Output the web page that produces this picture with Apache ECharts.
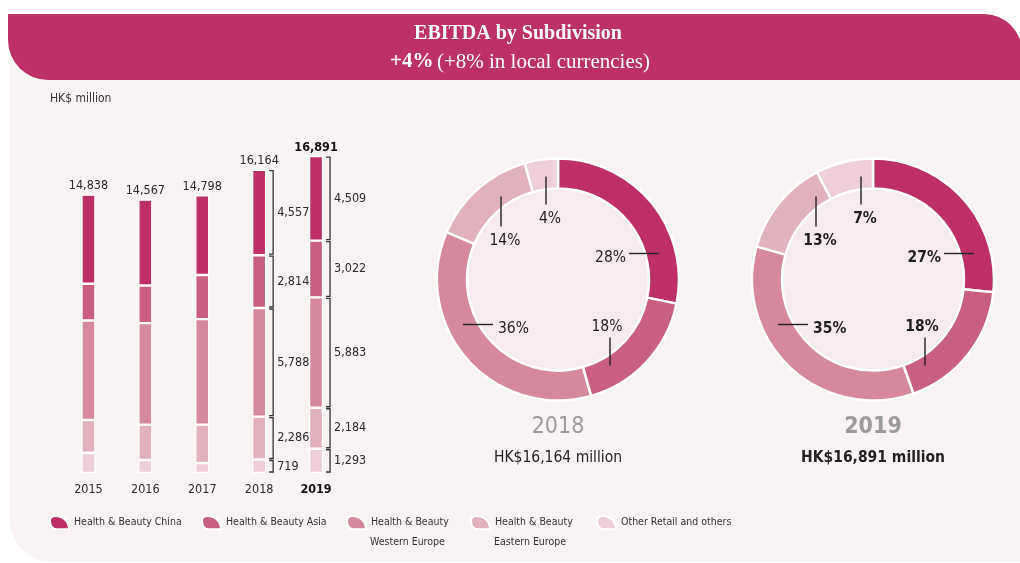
<!DOCTYPE html>
<html><head><meta charset="utf-8">
<script src="https://cdn.jsdelivr.net/npm/echarts@6/dist/echarts.min.js"></script>
<style>html,body{margin:0;padding:0;background:#fff}#c{width:1020px;height:563px}</style>
</head><body><div id="c"></div>
<script>
// ---- data ----
const years = ['2015', '2016', '2017', '2018', '2019'];
const seriesNames = ['Health & Beauty China', 'Health & Beauty Asia', 'Health & Beauty Western Europe', 'Health & Beauty Eastern Europe', 'Other Retail and others'];
const hbChina      = [4750, 4575, 4250, 4557, 4509];
const hbAsia       = [1960, 2005, 2350, 2814, 3022];
const hbWestEurope = [5300, 5410, 5620, 5788, 5883];
const hbEastEurope = [1745, 1885, 2045, 2286, 2184];
const otherRetail  = [1083, 692, 533, 719, 1293];
const totals       = [14838, 14567, 14798, 16164, 16891];
const pct2018 = [28, 18, 36, 14, 4];
const pct2019 = [27, 18, 35, 13, 7];
const donutYears = ['2018', '2019'];
const donutTotals = ['HK$16,164 million', 'HK$16,891 million'];
const legendLine1 = ['Health & Beauty China', 'Health & Beauty Asia', 'Health & Beauty', 'Health & Beauty', 'Other Retail and others'];
const legendLine2 = ['', '', 'Western Europe', 'Eastern Europe', ''];

// ---- style ----
const FF = "'Liberation Sans Narrow','DejaVu Sans Condensed',sans-serif";
const colors = ['#BE2F67', '#C95F80', '#D6899D', '#E3B1BD', '#EECFD7'];
const valueArrays = [hbChina, hbAsia, hbWestEurope, hbEastEurope, otherRetail];
const fmt = v => String(v).replace(/\B(?=(\d{3})+(?!\d))/g, ',');
const leaf = 'path://M20,14 L7,14 C2,14 0,9 0,5 C0,1 2,0 6,0 C14,0 20,6 20,14 Z';
const legendLeft = [49, 201, 346, 470, 596];
const donutCenters = [[558, 279.5], [873, 279.5]];
// leader geometry relative to donut centre: [dx, dy, direction, length]
const leaders = [[101, -26, 'l', 30], [52, 86, 'u', 28], [-95, 45, 'r', 30], [-57, -83, 'd', 30], [-12, -103, 'd', 28]];

// bracket data for 2018 / 2019
const bottomUp = [otherRetail, hbEastEurope, hbWestEurope, hbAsia, hbChina];
const bracketData = [];
[3, 4].forEach(yi => {
  let cum = 0;
  bottomUp.forEach(arr => { bracketData.push([yi, cum, cum + arr[yi], arr[yi]]); cum += arr[yi]; });
});

const donutLabelData = [];
[pct2018, pct2019].forEach((arr, d) => arr.forEach((p, i) => donutLabelData.push([d, i, p])));

const barSeries = [4, 3, 2, 1, 0].map(i => ({
  name: seriesNames[i], type: 'bar', stack: 'total', barWidth: 14,
  itemStyle: { color: colors[i], borderColor: '#fff', borderWidth: 1.2 },
  label: i === 0 ? {
    show: true, position: 'top', distance: 2, fontFamily: FF, fontSize: 12.5, color: '#2a2a2a',
    formatter: p => fmt(totals[p.dataIndex])
  } : { show: false },
  data: valueArrays[i].map((v, k) => (i === 0 && k === 4) ? { value: v, label: { fontWeight: 'bold', color: '#111' } } : v),
  silent: true
}));

const pies = [3, 4].map((yi, d) => ({
  type: 'pie', center: donutCenters[d], radius: [91, 121], startAngle: 90, clockwise: true,
  label: { show: false }, labelLine: { show: false }, silent: true,
  itemStyle: { borderColor: '#fff', borderWidth: 2.5 },
  data: seriesNames.map((n, i) => ({ name: n, value: valueArrays[i][yi], itemStyle: { color: colors[i] } }))
}));
const pieFills = donutCenters.map(c => ({
  type: 'pie', center: c, radius: [0, 90], silent: true, label: { show: false }, labelLine: { show: false },
  data: [{ value: 1, itemStyle: { color: '#F8EBF0' } }]
}));

const option = {
  animation: false,
  backgroundColor: '#ffffff',
  graphic: [
    { type: 'rect', z: -10, shape: { x: 10, y: 60, width: 1015, height: 502, r: [0, 0, 0, 42] }, style: { fill: '#F9F3F4' } },
    { type: 'rect', z: -9, shape: { x: 8, y: 14, width: 1014, height: 66, r: [0, 38, 0, 40] }, style: { fill: '#BE3068' } },
    { type: 'text', style: { text: 'EBITDA by Subdivision', x: 518, y: 34, align: 'center', verticalAlign: 'middle', fontFamily: "'Liberation Serif',serif", fontWeight: 'bold', fontSize: 20, fill: '#fff' } },
    { type: 'text', style: { text: '{b|+4%} {n|(+8% in local currencies)}', x: 520, y: 62, align: 'center', verticalAlign: 'middle',
      rich: { b: { fontFamily: "'Liberation Serif',serif", fontWeight: 'bold', fontSize: 21, fill: '#fff', color: '#fff' },
              n: { fontFamily: "'Liberation Serif',serif", fontSize: 21, fill: '#fff', color: '#fff' } } } },
    { type: 'text', style: { text: 'HK$ million', x: 50, y: 99, verticalAlign: 'middle', fontFamily: FF, fontSize: 12, fill: '#333' } },
    ...donutCenters.map((c, d) => ({ type: 'text', style: { text: donutYears[d], x: c[0], y: 427, align: 'center', verticalAlign: 'middle', fontFamily: FF, fontSize: 23, fontWeight: d === 1 ? 'bold' : 'normal', fill: '#9B9B9B' } })),
    ...donutCenters.map((c, d) => ({ type: 'text', style: { text: donutTotals[d], x: c[0], y: 458, align: 'center', verticalAlign: 'middle', fontFamily: FF, fontSize: 15.5, fontWeight: d === 1 ? 'bold' : 'normal', fill: '#222' } })),
    ...legendLine2.map((t, i) => t ? ({ type: 'text', style: { text: t, x: legendLeft[i] + 24, y: 542, verticalAlign: 'middle', fontFamily: FF, fontSize: 10.5, fill: '#333' } }) : null).filter(Boolean)
  ],
  legend: seriesNames.map((n, i) => ({
    data: [n], left: legendLeft[i], top: 515, itemWidth: 19, itemHeight: 14, icon: leaf, selectedMode: false, padding: 0,
    textStyle: { fontFamily: FF, fontSize: 10.5, color: '#333' }, formatter: () => legendLine1[i]
  })),
  grid: { left: 60, width: 284.5, top: 154, bottom: 90 },
  xAxis: {
    type: 'category', data: years, axisLine: { show: false }, axisTick: { show: false },
    axisLabel: { interval: 0, margin: 10, fontFamily: FF, fontSize: 12.5, color: '#2a2a2a',
      formatter: v => v === '2019' ? '{b|' + v + '}' : v,
      rich: { b: { fontFamily: FF, fontSize: 12.5, fontWeight: 'bold', color: '#111' } } }
  },
  yAxis: { type: 'value', min: 0, max: 17000, show: false },
  series: [
    ...barSeries,
    {
      type: 'custom', silent: true, data: bracketData, z: 5,
      renderItem: (params, api) => {
        const yi = api.value(0), lo = api.value(1), hi = api.value(2), v = api.value(3);
        const top = api.coord([yi, hi]), bot = api.coord([yi, lo]);
        const bx = top[0] + 14, y1 = top[1] + 1, y2 = bot[1] - 1;
        return { type: 'group', children: [
          { type: 'polyline', shape: { points: [[bx - 4, y1], [bx, y1], [bx, y2], [bx - 4, y2]] }, style: { stroke: '#333', lineWidth: 1.3, fill: null } },
          { type: 'text', style: { text: fmt(v), x: bx + 4, y: (y1 + y2) / 2, align: 'left', verticalAlign: 'middle', fontFamily: FF, fontSize: 12.5, fill: '#2a2a2a' } }
        ] };
      }
    },
    ...pieFills,
    ...pies,
    {
      type: 'custom', coordinateSystem: 'none', silent: true, data: donutLabelData, z: 10,
      renderItem: (params, api) => {
        const d = api.value(0), i = api.value(1), p = api.value(2);
        const c = donutCenters[d], L = leaders[i];
        const ex = c[0] + L[0], ey = c[1] + L[1], len = L[3];
        let pts, tx, ty, al, va;
        if (L[2] === 'l') { pts = [[ex, ey], [ex - len, ey]]; tx = ex - len - 3; ty = ey + 4; al = 'right'; va = 'middle'; }
        else if (L[2] === 'r') { pts = [[ex, ey], [ex + len, ey]]; tx = ex + len + 5; ty = ey + 4; al = 'left'; va = 'middle'; }
        else if (L[2] === 'u') { pts = [[ex, ey], [ex, ey - len]]; tx = ex - 3; ty = ey - len - 3; al = 'center'; va = 'bottom'; }
        else { pts = [[ex, ey], [ex, ey + len]]; tx = ex + 4; ty = ey + len + 6; al = 'center'; va = 'top'; }
        return { type: 'group', children: [
          { type: 'polyline', shape: { points: pts }, style: { stroke: '#222', lineWidth: 1.4, fill: null } },
          { type: 'text', style: { text: p + '%', x: tx, y: ty, align: al, verticalAlign: va, fontFamily: FF, fontSize: 15.5, fontWeight: d === 1 ? 'bold' : 'normal', fill: '#1e1e1e' } }
        ] };
      }
    }
  ]
};
const chart = echarts.init(document.getElementById('c'), null, { renderer: 'canvas' });
chart.setOption(option);
</script></body></html>
